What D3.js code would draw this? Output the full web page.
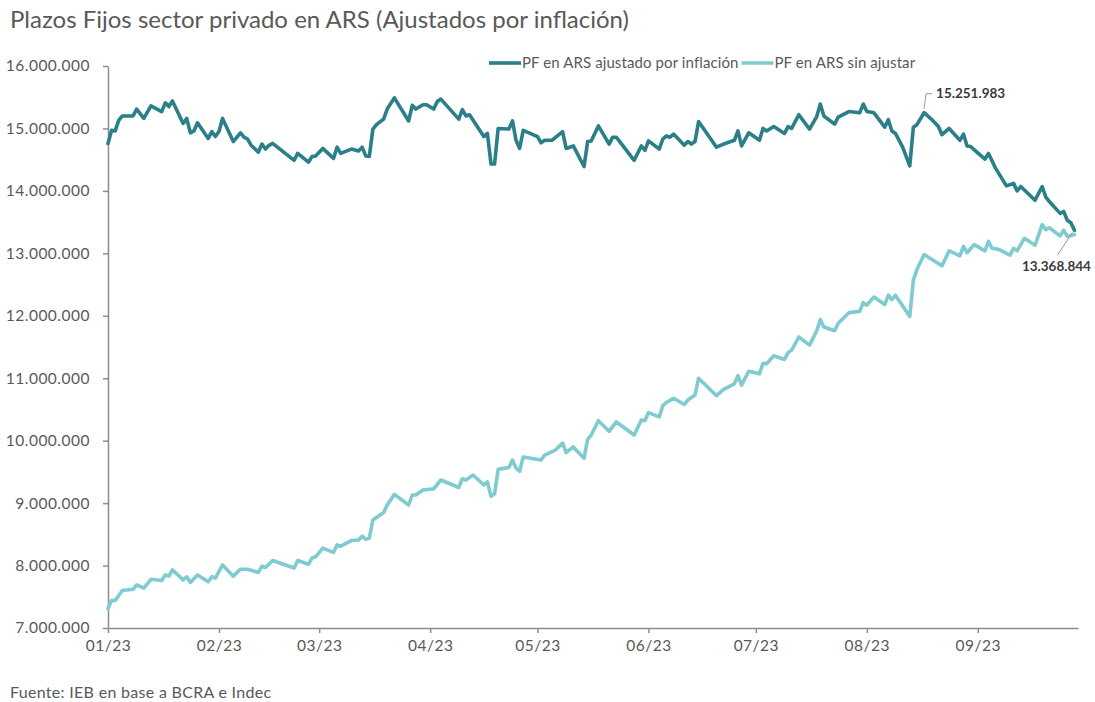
<!DOCTYPE html>
<html>
<head>
<meta charset="utf-8">
<script src="https://cdn.jsdelivr.net/npm/d3@7"></script>
<style>
  body { margin: 0; background: #fff; }
  svg { display: block; font-family: Lato, "Open Sans", sans-serif; }
</style>
</head>
<body>
<svg id="chart" width="1095" height="702"></svg>
<script>
// Plazos fijos del sector privado en ARS, 2023 (datos diarios)
const fechasAjustado = [
  "2023-01-01","2023-01-02","2023-01-03","2023-01-04","2023-01-05","2023-01-08","2023-01-09","2023-01-11","2023-01-13","2023-01-16",
  "2023-01-17","2023-01-18","2023-01-19","2023-01-22","2023-01-23","2023-01-24","2023-01-25","2023-01-26","2023-01-29","2023-01-30",
  "2023-01-31","2023-02-01","2023-02-02","2023-02-05","2023-02-07","2023-02-08","2023-02-09","2023-02-10","2023-02-12","2023-02-13",
  "2023-02-14","2023-02-15","2023-02-16","2023-02-22","2023-02-23","2023-02-26","2023-02-27","2023-02-28","2023-03-02","2023-03-05",
  "2023-03-06","2023-03-07","2023-03-10","2023-03-12","2023-03-13","2023-03-14","2023-03-15","2023-03-16","2023-03-17","2023-03-19",
  "2023-03-20","2023-03-22","2023-03-26","2023-03-27","2023-03-28","2023-03-30","2023-03-31","2023-04-02","2023-04-03","2023-04-04",
  "2023-04-09","2023-04-10","2023-04-11","2023-04-12","2023-04-16","2023-04-17","2023-04-18","2023-04-19","2023-04-20","2023-04-23",
  "2023-04-24","2023-04-25","2023-04-26","2023-04-27","2023-05-01","2023-05-02","2023-05-03","2023-05-05","2023-05-08","2023-05-09",
  "2023-05-11","2023-05-14","2023-05-15","2023-05-16","2023-05-18","2023-05-21","2023-05-22","2023-05-23","2023-05-28","2023-05-30",
  "2023-05-31","2023-06-01","2023-06-04","2023-06-05","2023-06-06","2023-06-07","2023-06-08","2023-06-11","2023-06-12","2023-06-13",
  "2023-06-14","2023-06-15","2023-06-20","2023-06-22","2023-06-25","2023-06-26","2023-06-27","2023-06-29","2023-07-02","2023-07-03",
  "2023-07-04","2023-07-06","2023-07-09","2023-07-10","2023-07-11","2023-07-13","2023-07-16","2023-07-18","2023-07-19","2023-07-20",
  "2023-07-23","2023-07-24","2023-07-27","2023-07-30","2023-07-31","2023-08-01","2023-08-03","2023-08-06","2023-08-07","2023-08-08",
  "2023-08-09","2023-08-11","2023-08-13","2023-08-14","2023-08-15","2023-08-17","2023-08-19","2023-08-21","2023-08-22","2023-08-24",
  "2023-08-27","2023-08-28","2023-08-29","2023-08-30","2023-09-03","2023-09-04","2023-09-06","2023-09-09","2023-09-11","2023-09-12",
  "2023-09-13","2023-09-17","2023-09-19","2023-09-20","2023-09-21","2023-09-24","2023-09-25","2023-09-26","2023-09-27","2023-09-28"
];
const pfAjustado = [
  14760000,14970000,14960000,15130000,15200000,15200000,15310000,15160000,15360000,15270000,
  15410000,15350000,15440000,15080000,15160000,14930000,14960000,15090000,14840000,14950000,
  14870000,14950000,15160000,14790000,14930000,14860000,14830000,14730000,14620000,14750000,
  14670000,14730000,14760000,14490000,14600000,14460000,14550000,14560000,14680000,14520000,
  14700000,14600000,14670000,14640000,14700000,14560000,14550000,14990000,15060000,15150000,
  15310000,15490000,15120000,15370000,15310000,15380000,15380000,15310000,15430000,15470000,
  15150000,15300000,15200000,15220000,14870000,14920000,14430000,14430000,15000000,14990000,
  15120000,14810000,14680000,14970000,14870000,14770000,14810000,14810000,14950000,14680000,
  14720000,14390000,14790000,14800000,15040000,14750000,14860000,14860000,14490000,14720000,
  14650000,14800000,14670000,14830000,14880000,14860000,14910000,14730000,14790000,14750000,
  14790000,15110000,14700000,14750000,14810000,14960000,14720000,14930000,14810000,15000000,
  14960000,15030000,14920000,15030000,15000000,15220000,14990000,15190000,15390000,15200000,
  15070000,15180000,15270000,15250000,15390000,15270000,15250000,15020000,15140000,14960000,
  14920000,14700000,14400000,15020000,15060000,15251983,15150000,15030000,14900000,15000000,
  14810000,14910000,14720000,14710000,14510000,14600000,14360000,14080000,14120000,14000000,
  14070000,13850000,14070000,13900000,13830000,13640000,13670000,13530000,13490000,13368844
];

const fechasSinAjustar = [
  "2023-01-01","2023-01-02","2023-01-03","2023-01-05","2023-01-08","2023-01-09","2023-01-11","2023-01-13","2023-01-16","2023-01-17",
  "2023-01-18","2023-01-19","2023-01-22","2023-01-23","2023-01-24","2023-01-26","2023-01-29","2023-01-30","2023-01-31","2023-02-02",
  "2023-02-05","2023-02-07","2023-02-09","2023-02-12","2023-02-13","2023-02-14","2023-02-16","2023-02-22","2023-02-23","2023-02-26",
  "2023-02-27","2023-02-28","2023-03-02","2023-03-05","2023-03-06","2023-03-07","2023-03-10","2023-03-12","2023-03-13","2023-03-14",
  "2023-03-15","2023-03-16","2023-03-19","2023-03-20","2023-03-22","2023-03-26","2023-03-27","2023-03-28","2023-03-30","2023-04-02",
  "2023-04-04","2023-04-09","2023-04-10","2023-04-11","2023-04-13","2023-04-16","2023-04-17","2023-04-18","2023-04-19","2023-04-20",
  "2023-04-23","2023-04-24","2023-04-25","2023-04-26","2023-04-27","2023-05-02","2023-05-03","2023-05-06","2023-05-08","2023-05-09",
  "2023-05-11","2023-05-14","2023-05-15","2023-05-16","2023-05-18","2023-05-21","2023-05-23","2023-05-28","2023-05-30","2023-05-31",
  "2023-06-01","2023-06-04","2023-06-05","2023-06-06","2023-06-08","2023-06-11","2023-06-12","2023-06-14","2023-06-15","2023-06-20",
  "2023-06-22","2023-06-25","2023-06-26","2023-06-27","2023-06-29","2023-07-02","2023-07-03","2023-07-04","2023-07-06","2023-07-09",
  "2023-07-10","2023-07-11","2023-07-13","2023-07-16","2023-07-18","2023-07-19","2023-07-20","2023-07-23","2023-07-24","2023-07-27",
  "2023-07-30","2023-07-31","2023-08-01","2023-08-03","2023-08-06","2023-08-07","2023-08-08","2023-08-09","2023-08-13","2023-08-14",
  "2023-08-15","2023-08-17","2023-08-22","2023-08-24","2023-08-27","2023-08-28","2023-08-29","2023-08-31","2023-09-03","2023-09-04",
  "2023-09-05","2023-09-07","2023-09-10","2023-09-11","2023-09-12","2023-09-14","2023-09-17","2023-09-19","2023-09-20","2023-09-21",
  "2023-09-24","2023-09-25","2023-09-26","2023-09-28"
];
const pfSinAjustar = [
  7315000,7440000,7440000,7600000,7620000,7690000,7640000,7780000,7760000,7850000,
  7830000,7930000,7770000,7820000,7730000,7850000,7740000,7820000,7800000,8010000,
  7830000,7940000,7940000,7890000,7990000,7970000,8080000,7960000,8080000,8020000,
  8120000,8140000,8280000,8210000,8330000,8310000,8400000,8410000,8470000,8420000,
  8440000,8730000,8850000,8970000,9140000,8970000,9130000,9130000,9210000,9230000,
  9370000,9250000,9390000,9370000,9450000,9290000,9340000,9110000,9150000,9540000,
  9570000,9690000,9560000,9510000,9740000,9690000,9770000,9850000,9960000,9810000,
  9900000,9720000,10020000,10090000,10320000,10150000,10300000,10090000,10330000,10320000,
  10450000,10380000,10560000,10610000,10680000,10580000,10650000,10730000,11000000,10720000,
  10820000,10910000,11040000,10890000,11110000,11070000,11240000,11230000,11360000,11300000,
  11410000,11450000,11660000,11530000,11760000,11940000,11820000,11760000,11880000,12050000,
  12070000,12210000,12170000,12300000,12180000,12330000,12260000,12330000,11990000,12570000,
  12740000,12980000,12800000,13040000,12960000,13110000,13010000,13140000,13040000,13190000,
  13080000,13060000,12970000,13080000,13040000,13240000,13130000,13460000,13380000,13410000,
  13280000,13370000,13270000,13300000
];

const ticksY = [7000000, 8000000, 9000000, 10000000, 11000000, 12000000, 13000000, 14000000, 15000000, 16000000];
const ticksX = ["2023-01-01","2023-02-01","2023-03-01","2023-04-01","2023-05-01","2023-06-01","2023-07-01","2023-08-01","2023-09-01"];
const nombresSeries = ["PF en ARS ajustado por inflación", "PF en ARS sin ajustar"];
const coloresSeries = ["#2a7f89", "#7ecbd0"];

const titulo = "Plazos Fijos sector privado en ARS (Ajustados por inflación)";
const fuente = "Fuente: IEB en base a BCRA e Indec";

const parse = d3.timeParse("%Y-%m-%d");
const es = d3.formatLocale({ decimal: ",", thousands: ".", grouping: [3], currency: ["$", ""] });
const fmt = es.format(",d");

const svg = d3.select("#chart");
const area = { left: 108, right: 1078, top: 66, bottom: 628 };
const gris = "#8c8c8c", texto = "#595959";

const x = d3.scaleTime()
  .domain([parse("2023-01-01"), parse("2023-09-29")])
  .range([area.left, area.right]);
const y = d3.scaleLinear().domain([7000000, 16000000]).range([area.bottom, area.top]);

// Título y fuente
svg.append("text").attr("x", 10).attr("y", 28)
  .attr("font-size", 24).attr("fill", texto).text(titulo);
svg.append("text").attr("x", 10).attr("y", 698)
  .attr("font-size", 16).attr("letter-spacing", 0.3).attr("fill", texto).text(fuente);

// Ejes
const ejeY = svg.append("g").attr("transform", `translate(${area.left},0)`)
  .call(d3.axisLeft(y).tickValues(ticksY).tickSize(5).tickSizeOuter(0).tickPadding(13).tickFormat(fmt));
const ejeX = svg.append("g").attr("transform", `translate(0,${area.bottom})`)
  .call(d3.axisBottom(x).tickValues(ticksX.map(parse)).tickSize(5).tickSizeOuter(0).tickPadding(7)
    .tickFormat(d3.timeFormat("%m/%y")));
[ejeY, ejeX].forEach(g => {
  g.select(".domain").attr("stroke", gris).attr("stroke-width", 1.5);
  g.selectAll(".tick line").attr("stroke", gris).attr("stroke-width", 1.5);
  g.selectAll(".tick text").attr("fill", texto).attr("font-size", 15.5).attr("letter-spacing", 0.5)
    .attr("font-family", "Lato, 'Open Sans', sans-serif");
});

// Series
const serie = (fechas, valores) => fechas.map((f, i) => ({ fecha: parse(f), valor: valores[i] }));
const datos = [serie(fechasAjustado, pfAjustado), serie(fechasSinAjustar, pfSinAjustar)];
const linea = d3.line().x(d => x(d.fecha)).y(d => y(d.valor));

[1, 0].forEach(i => {
  svg.append("path").datum(datos[i])
    .attr("fill", "none").attr("stroke", coloresSeries[i])
    .attr("stroke-width", 3.6).attr("stroke-linejoin", "round").attr("stroke-linecap", "round")
    .attr("d", linea);
});

// Leyenda
const leyenda = svg.append("g").attr("font-size", 15).attr("letter-spacing", 0.1).attr("fill", texto);
let lx = 489;
nombresSeries.forEach((n, i) => {
  leyenda.append("line").attr("x1", lx).attr("x2", lx + 32).attr("y1", 63).attr("y2", 63)
    .attr("stroke", coloresSeries[i]).attr("stroke-width", 3.6);
  const t = leyenda.append("text").attr("x", lx + 33).attr("y", 68).text(n);
  lx = lx + 33 + t.node().getComputedTextLength() + 3;
});

// Anotaciones de valores
const desde = parse("2023-08-10");
const maxAj = datos[0][d3.maxIndex(datos[0], d => d.fecha >= desde ? d.valor : -Infinity)];
const ultAj = datos[0][datos[0].length - 1];
const px1 = x(maxAj.fecha), py1 = y(maxAj.valor);
svg.append("path")
  .attr("d", `M${px1},${py1 - 4}L${px1 + 2},${py1 - 19}L${px1 + 8},${py1 - 19}`)
  .attr("fill", "none").attr("stroke", "#999").attr("stroke-width", 1);
svg.append("text").attr("x", px1 + 12).attr("y", py1 - 14.5)
  .attr("font-size", 13.5).attr("font-weight", 700).attr("fill", "#3a3a3a").text(fmt(maxAj.valor));

const px2 = x(ultAj.fecha), py2 = y(ultAj.valor);
svg.append("line").attr("x1", px2 - 2).attr("y1", py2 + 2).attr("x2", px2 - 17).attr("y2", py2 + 25)
  .attr("stroke", "#999").attr("stroke-width", 1);
svg.append("text").attr("x", px2 - 18).attr("y", py2 + 41).attr("text-anchor", "middle")
  .attr("font-size", 13.5).attr("font-weight", 700).attr("fill", "#3a3a3a").text(fmt(ultAj.valor));
</script>
</body>
</html>
